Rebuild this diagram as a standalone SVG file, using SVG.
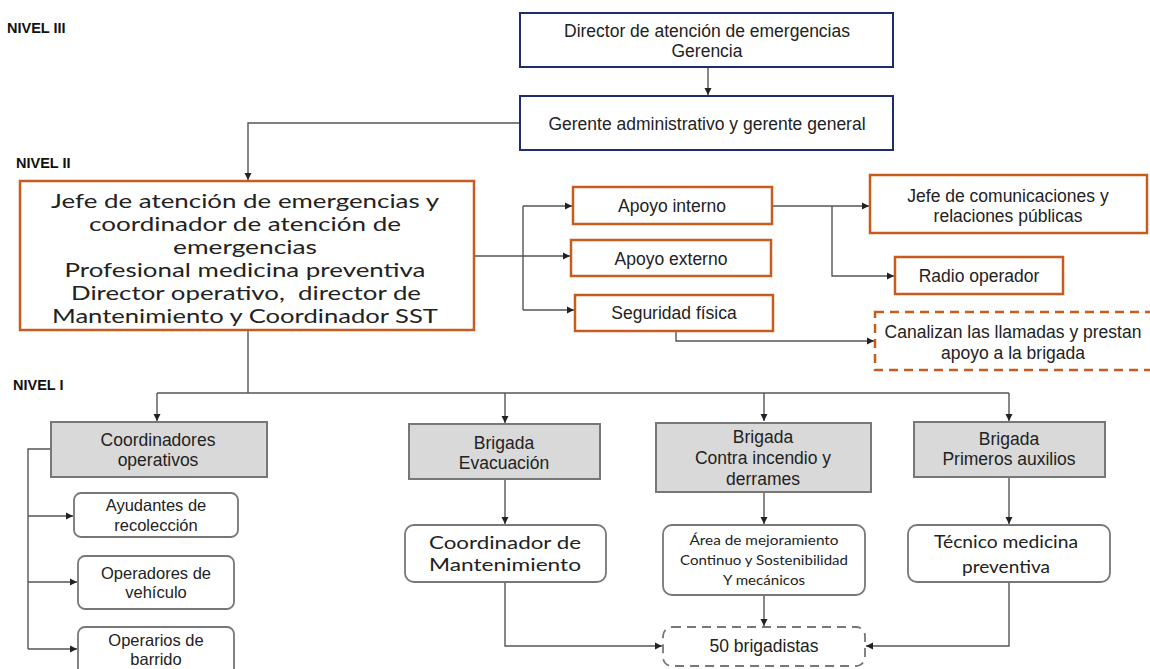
<svg xmlns="http://www.w3.org/2000/svg" width="1150" height="669" viewBox="0 0 1150 669">
<defs>
<marker id="ah" markerWidth="8" markerHeight="8" refX="7" refY="4" orient="auto" markerUnits="userSpaceOnUse">
<path d="M0,0.5 L7,4 L0,7.5 Z" fill="#222"/>
</marker>
<style>
.lvl{font-family:"Liberation Sans",Arial,sans-serif;font-weight:bold;font-size:14.5px;fill:#111}
.t{font-family:"Liberation Sans",Arial,sans-serif;font-size:17.5px;fill:#222;text-anchor:middle;dominant-baseline:central}
.s{font-size:16.5px}
.c{font-family:Lato,"Open Sans",sans-serif;fill:#222;text-anchor:middle;dominant-baseline:central}
.blue{fill:#fff;stroke:#1f2e6b;stroke-width:2}
.org{fill:#fff;stroke:#c65d1e;stroke-width:2.5}
.orgd{fill:#fff;stroke:#c65d1e;stroke-width:2.5;stroke-dasharray:9 6}
.gray{fill:#d9d9d9;stroke:#777;stroke-width:2}
.rnd{fill:#fff;stroke:#777;stroke-width:1.8}
.rndd{fill:#fff;stroke:#777;stroke-width:1.8;stroke-dasharray:9 6}
.ln{fill:none;stroke:#555;stroke-width:1.4}
</style>
</defs>
<rect width="1150" height="669" fill="#fff"/>
<text class="lvl" x="7" y="33">NIVEL III</text>
<text class="lvl" x="16" y="168">NIVEL II</text>
<text class="lvl" x="13" y="390">NIVEL I</text>

<g id="connectors">
<path class="ln" d="M708,67 V95" marker-end="url(#ah)"/>
<path class="ln" d="M520,123 H248 V180" marker-end="url(#ah)"/>
<path class="ln" d="M474,256 H570" marker-end="url(#ah)"/>
<path class="ln" d="M523,206 V310"/>
<path class="ln" d="M523,206 H572" marker-end="url(#ah)"/>
<path class="ln" d="M523,310 H574" marker-end="url(#ah)"/>
<path class="ln" d="M772,206 H869" marker-end="url(#ah)"/>
<path class="ln" d="M832,206 V276 H894" marker-end="url(#ah)"/>
<path class="ln" d="M676,331 V341 H874" marker-end="url(#ah)"/>
<path class="ln" d="M248,330 V393"/>
<path class="ln" d="M157,393 H1009"/>
<path class="ln" d="M157,393 V421" marker-end="url(#ah)"/>
<path class="ln" d="M505,393 V423" marker-end="url(#ah)"/>
<path class="ln" d="M764,393 V421" marker-end="url(#ah)"/>
<path class="ln" d="M1009,393 V421" marker-end="url(#ah)"/>
<path class="ln" d="M50,449 H28 V649"/>
<path class="ln" d="M28,516 H73" marker-end="url(#ah)"/>
<path class="ln" d="M28,582 H77" marker-end="url(#ah)"/>
<path class="ln" d="M28,649 H77" marker-end="url(#ah)"/>
<path class="ln" d="M505,479 V524" marker-end="url(#ah)"/>
<path class="ln" d="M764,492 V524" marker-end="url(#ah)"/>
<path class="ln" d="M1009,477 V524" marker-end="url(#ah)"/>
<path class="ln" d="M505,582 V646 H662" marker-end="url(#ah)"/>
<path class="ln" d="M764,595 V626" marker-end="url(#ah)"/>
<path class="ln" d="M1009,582 V646 H866" marker-end="url(#ah)"/>
</g>

<g id="director">
<rect class="blue" x="520" y="13" width="373" height="54"/>
<text class="t" x="707" y="31">Director de atención de emergencias</text>
<text class="t" x="707" y="51">Gerencia</text>
</g>
<g id="gerente">
<rect class="blue" x="520" y="96" width="373" height="54"/>
<text class="t" x="707" y="124">Gerente administrativo y gerente general</text>
</g>
<g id="jefe">
<rect class="org" x="20" y="181" width="454" height="149"/>
<text class="c" font-size="19" x="245" y="200" textLength="388" lengthAdjust="spacingAndGlyphs">Jefe de atención de emergencias y</text>
<text class="c" font-size="19" x="245" y="223" textLength="312" lengthAdjust="spacingAndGlyphs">coordinador de atención de</text>
<text class="c" font-size="19" x="245" y="246" textLength="144" lengthAdjust="spacingAndGlyphs">emergencias</text>
<text class="c" font-size="19" x="245" y="269" textLength="361" lengthAdjust="spacingAndGlyphs">Profesional medicina preventiva</text>
<text class="c" font-size="19" x="246" y="292" textLength="350" lengthAdjust="spacingAndGlyphs" xml:space="preserve">Director operativo,  director de</text>
<text class="c" font-size="19" x="245" y="315" textLength="386" lengthAdjust="spacingAndGlyphs">Mantenimiento y Coordinador SST</text>
</g>
<g id="apoyo-interno">
<rect class="org" x="573" y="187" width="199" height="37"/>
<text class="t" x="672" y="206">Apoyo interno</text>
</g>
<g id="apoyo-externo">
<rect class="org" x="571" y="240" width="200" height="36"/>
<text class="t" x="671" y="259">Apoyo externo</text>
</g>
<g id="seguridad">
<rect class="org" x="575" y="295" width="198" height="36"/>
<text class="t" x="674" y="313">Seguridad física</text>
</g>
<g id="jefe-comunicaciones">
<rect class="org" x="870" y="175" width="277" height="58"/>
<text class="t" x="1008" y="196">Jefe de comunicaciones y</text>
<text class="t" x="1008" y="216">relaciones públicas</text>
</g>
<g id="radio">
<rect class="org" x="895" y="257" width="168" height="37"/>
<text class="t" x="979" y="276">Radio operador</text>
</g>
<g id="canalizan">
<rect class="orgd" x="875" y="312" width="290" height="58"/>
<text class="t" x="1013" y="332">Canalizan las llamadas y prestan</text>
<text class="t" x="1013" y="353">apoyo a la brigada</text>
</g>

<g id="coordinadores">
<rect class="gray" x="51" y="422" width="216" height="55"/>
<text class="t" x="158" y="440">Coordinadores</text>
<text class="t" x="158" y="460">operativos</text>
</g>
<g id="ayudantes">
<rect class="rnd" x="74" y="493" width="164" height="44" rx="7"/>
<text class="t s" x="156" y="505">Ayudantes de</text>
<text class="t s" x="156" y="525">recolección</text>
</g>
<g id="operadores">
<rect class="rnd" x="78" y="556" width="156" height="53" rx="7"/>
<text class="t s" x="156" y="573">Operadores de</text>
<text class="t s" x="156" y="592">vehículo</text>
</g>
<g id="operarios">
<rect class="rnd" x="78" y="627" width="156" height="52" rx="7"/>
<text class="t s" x="156" y="640">Operarios de</text>
<text class="t s" x="156" y="659">barrido</text>
</g>
<g id="brigada-evacuacion">
<rect class="gray" x="409" y="424" width="191" height="55"/>
<text class="t" x="504" y="443">Brigada</text>
<text class="t" x="504" y="463">Evacuación</text>
</g>
<g id="brigada-incendio">
<rect class="gray" x="656" y="423" width="215" height="69"/>
<text class="t" x="763" y="437">Brigada</text>
<text class="t" x="763" y="458">Contra incendio y</text>
<text class="t" x="763" y="479">derrames</text>
</g>
<g id="brigada-auxilios">
<rect class="gray" x="914" y="422" width="191" height="55"/>
<text class="t" x="1009" y="439">Brigada</text>
<text class="t" x="1009" y="459">Primeros auxilios</text>
</g>
<g id="coordinador-mantenimiento">
<rect class="rnd" x="405" y="525" width="201" height="57" rx="9"/>
<text class="c" font-size="18" x="505" y="542" textLength="152" lengthAdjust="spacingAndGlyphs">Coordinador de</text>
<text class="c" font-size="18" x="505" y="564" textLength="152" lengthAdjust="spacingAndGlyphs">Mantenimiento</text>
</g>
<g id="area-mejoramiento">
<rect class="rnd" x="663" y="525" width="202" height="70" rx="9"/>
<text class="c" font-size="13" x="764" y="540" textLength="149" lengthAdjust="spacingAndGlyphs">Área de mejoramiento</text>
<text class="c" font-size="13" x="764" y="560" textLength="168" lengthAdjust="spacingAndGlyphs">Continuo y Sostenibilidad</text>
<text class="c" font-size="13" x="764" y="580" textLength="82" lengthAdjust="spacingAndGlyphs">Y mecánicos</text>
</g>
<g id="tecnico">
<rect class="rnd" x="908" y="525" width="202" height="57" rx="9"/>
<text class="c" font-size="18" x="1006" y="541" textLength="144" lengthAdjust="spacingAndGlyphs">Técnico medicina</text>
<text class="c" font-size="18" x="1006" y="566" textLength="88" lengthAdjust="spacingAndGlyphs">preventiva</text>
</g>
<g id="brigadistas">
<rect class="rndd" x="663" y="627" width="202" height="39" rx="9"/>
<text class="t" x="764" y="646">50 brigadistas</text>
</g>
</svg>
